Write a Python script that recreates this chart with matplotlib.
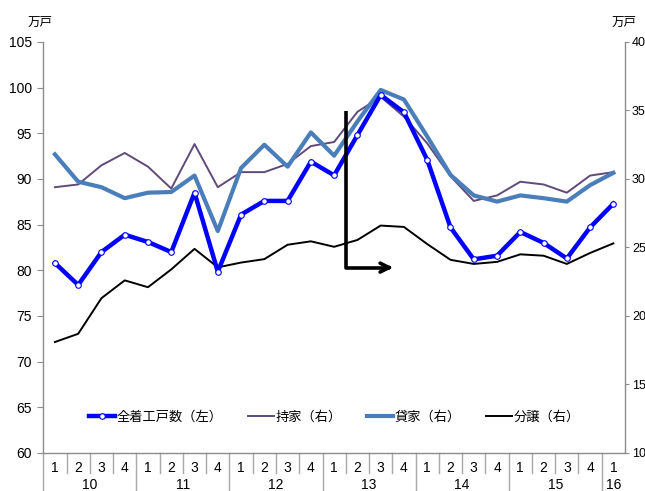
import matplotlib
matplotlib.use("Agg")
import matplotlib.pyplot as plt
from matplotlib.lines import Line2D
import matplotlib.transforms as mtransforms

plt.rcParams['font.family'] = ['Liberation Sans', 'Noto Sans CJK JP', 'DejaVu Sans']

# ---- data ----
quarters = ['1', '2', '3', '4'] * 6 + ['1']
years = ['10', '11', '12', '13', '14', '15', '16']
total = [80.8, 78.4, 82.0, 83.9, 83.1, 82.0, 88.5, 79.85, 86.1, 87.6, 87.6, 91.9,
         90.4, 94.8, 99.2, 97.3, 92.1, 84.7, 81.2, 81.6, 84.2, 83.0, 81.3, 84.7, 87.3]
owner = [29.4, 29.6, 31.0, 31.9, 30.9, 29.3, 32.55, 29.4, 30.5, 30.5, 31.1, 32.4,
         32.7, 34.9, 36.0, 34.55, 32.6, 30.2, 28.4, 28.8, 29.8, 29.6, 29.0, 30.25, 30.5]
rental = [31.8, 29.8, 29.4, 28.6, 29.0, 29.05, 30.25, 26.2, 30.8, 32.5, 30.9, 33.4,
          31.7, 34.2, 36.5, 35.8, 33.1, 30.3, 28.8, 28.35, 28.8, 28.6, 28.35, 29.55, 30.45]
condo = [18.1, 18.7, 21.3, 22.6, 22.1, 23.4, 24.9, 23.55, 23.9, 24.15, 25.2, 25.45,
         25.05, 25.55, 26.6, 26.5, 25.25, 24.1, 23.8, 23.95, 24.5, 24.4, 23.8, 24.6, 25.3]
labels = ['全着工戸数（左）', '持家（右）', '貸家（右）', '分譲（右）']

n = len(total)
x = list(range(n))

fig = plt.figure(figsize=(6.45, 4.91), dpi=100)
ax = fig.add_axes([0.0671, 0.0774, 0.9019, 0.8371])
ax2 = ax.twinx()

grey = '#8c8c8c'
l2, = ax2.plot(x, owner, color='#604A7B', lw=1.4, label=labels[1])
l3, = ax2.plot(x, rental, color='#4A7EBB', lw=3.0, label=labels[2])
l4, = ax2.plot(x, condo, color='black', lw=1.4, label=labels[3])
l1, = ax.plot(x, total, color='#0000FF', lw=3.2, marker='o', markersize=4,
              markerfacecolor='white', markeredgecolor='#0000FF', markeredgewidth=0.8,
              label=labels[0])
ax.set_zorder(ax2.get_zorder() + 1)
ax.patch.set_visible(False)

ax.set_xlim(-0.5, n - 0.5)
ax.set_ylim(60, 105)
ax.set_yticks(range(60, 106, 5))
ax2.set_ylim(10, 40)
ax2.set_yticks(range(10, 41, 5))

for a in (ax, ax2):
    a.spines['top'].set_visible(False)
    for s in ['left', 'right', 'bottom']:
        a.spines[s].set_color(grey)
        a.spines[s].set_linewidth(1.0)
ax.tick_params(axis='y', length=4, color=grey, labelsize=10, pad=4)
ax2.tick_params(axis='y', length=3, color=grey, labelsize=9, pad=2)
ax2.spines['left'].set_visible(False)
ax.spines['right'].set_visible(False)
ax2.spines['bottom'].set_visible(False)

# x axis: two-level categories
ax.set_xticks(x)
ax.set_xticklabels(quarters, fontsize=10)
ax.tick_params(axis='x', length=0, pad=6)
trans = mtransforms.blended_transform_factory(ax.transData, ax.transAxes)
for k in range(n):
    bx = k - 0.5
    depth = -0.092 if k % 4 == 0 else -0.049
    ax.add_line(Line2D([bx, bx], [0, depth], transform=trans, color='#a8a8a8',
                       lw=1.0, clip_on=False))
for j, yr in enumerate(years):
    start = j * 4
    end = min(start + 3, n - 1)
    ax.text((start + end) / 2, -0.077, yr, transform=trans, ha='center', va='center',
            fontsize=10)

# units
fig.text(0.062, 0.955, '万戸', ha='center', va='center', fontsize=9,
         family=['Noto Sans CJK JP'])
fig.text(0.967, 0.955, '万戸', ha='center', va='center', fontsize=9,
         family=['Noto Sans CJK JP'])

# arrow annotation
ax.plot([12.52, 12.52, 14.3], [97.4, 80.3, 80.3], color='black', lw=2.6,
        solid_capstyle='butt', zorder=5)
ax.annotate('', xy=(14.65, 80.3), xytext=(14.1, 80.3),
            arrowprops=dict(arrowstyle='->', lw=2.6, color='black', mutation_scale=16),
            zorder=5)

leg = ax.legend(handles=[l1, l2, l3, l4], loc='center', bbox_to_anchor=(0.5, 0.088),
                ncol=4, frameon=False, handlelength=2.0, handletextpad=0.1,
                columnspacing=1.9, prop={'family': ['Noto Sans CJK JP'], 'size': 9.5})

fig.savefig('out.png', dpi=100)
